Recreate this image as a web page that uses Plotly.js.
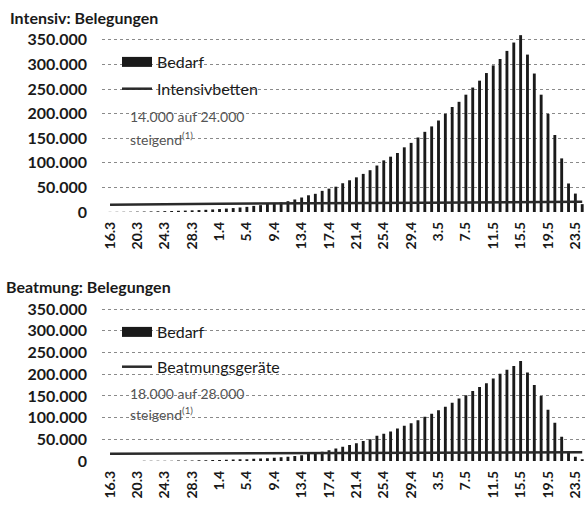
<!DOCTYPE html>
<html>
<head>
<meta charset="utf-8">
<script src="https://cdn.plot.ly/plotly-3.0.1.min.js"></script>
<style>html,body{margin:0;padding:0;background:#fff;}#chart{width:587px;height:518px;}</style>
</head>
<body>
<div id="chart"></div>
<script>
// Dates (one per day), 16.3 – 24.5
const dates = [
 "16.3","17.3","18.3","19.3","20.3","21.3","22.3","23.3","24.3","25.3","26.3","27.3","28.3","29.3","30.3","31.3",
 "1.4","2.4","3.4","4.4","5.4","6.4","7.4","8.4","9.4","10.4","11.4","12.4","13.4","14.4","15.4","16.4","17.4","18.4","19.4","20.4","21.4","22.4","23.4","24.4","25.4","26.4","27.4","28.4","29.4","30.4",
 "1.5","2.5","3.5","4.5","5.5","6.5","7.5","8.5","9.5","10.5","11.5","12.5","13.5","14.5","15.5","16.5","17.5","18.5","19.5","20.5","21.5","22.5","23.5","24.5"
];
const tickLabels = ["16.3","20.3","24.3","28.3","1.4","5.4","9.4","13.4","17.4","21.4","25.4","29.4","3.5","7.5","11.5","15.5","19.5","23.5"];
const yTicks = [0,50000,100000,150000,200000,250000,300000,350000];
const yTickText = ["0","50.000","100.000","150.000","200.000","250.000","300.000","350.000"];

// Intensiv: Bedarf
const intensivBedarf = [
 300,400,500,600,800,1000,1200,1500,1800,2100,2500,2900,3400,3900,4500,5200,
 6000,7000,8000,9200,10500,12500,14000,16500,18000,19500,22000,25500,29500,34000,37000,43000,47500,51500,58500,64500,70500,77500,85000,94500,105000,112500,120000,131500,140500,151500,
 163000,174000,186000,199500,213500,224000,238500,253000,267000,282500,298000,311000,327500,344500,359500,320000,281500,238500,199500,156500,109000,58000,37500,16000
];
// Intensivbetten (capacity line, read at a few dates)
const intensivBettenDates = ["16.3","1.4","1.5","24.5"];
const intensivBetten = [15000,17000,19000,21000];

// Beatmung: Bedarf
const beatmungBedarf = [
 100,150,200,250,300,400,500,600,700,850,1000,1200,1400,1600,1900,2200,
 2500,2900,3300,3800,4300,5000,5800,6600,7600,8700,10000,11500,13500,16000,18500,21500,25000,29000,33000,37000,41000,46000,50000,58000,63000,68000,75000,81000,87000,94000,
 102000,109000,117000,125000,134000,144000,151500,161500,170500,179000,190000,201000,210000,219000,230500,204000,175000,150000,118000,88000,56000,22000,10000,4000
];
const beatmungGeraeteDates = ["16.3","1.4","1.5","24.5"];
const beatmungGeraete = [17000,18000,19000,20000];

const ink = "#1a1a1a";
const fontFam = "Lato, 'Open Sans', sans-serif";

const traces = [
  {type:"bar", x:dates, y:intensivBedarf, marker:{color:ink}, xaxis:"x", yaxis:"y", showlegend:false, hoverinfo:"skip"},
  {type:"scatter", mode:"lines", x:[null], y:[null], name:"Bedarf", line:{color:ink, width:10}, xaxis:"x", yaxis:"y", legend:"legend", legendgroup:"a"},
  {type:"scatter", mode:"lines", x:intensivBettenDates, y:intensivBetten, name:"Intensivbetten", line:{color:"#2a2a2a", width:2.5}, xaxis:"x", yaxis:"y", legend:"legend", legendgroup:"b"},
  {type:"bar", x:dates, y:beatmungBedarf, marker:{color:ink}, xaxis:"x2", yaxis:"y2", showlegend:false, hoverinfo:"skip"},
  {type:"scatter", mode:"lines", x:[null], y:[null], name:"Bedarf", line:{color:ink, width:10}, xaxis:"x2", yaxis:"y2", legend:"legend2", legendgroup:"c"},
  {type:"scatter", mode:"lines", x:beatmungGeraeteDates, y:beatmungGeraete, name:"Beatmungsgeräte", line:{color:"#2a2a2a", width:2.5}, xaxis:"x2", yaxis:"y2", legend:"legend2", legendgroup:"d"}
];

const xCommon = {
  type:"category", categoryorder:"array", categoryarray:dates,
  range:[-1.17, 69.7], tickmode:"array", tickvals:tickLabels, ticktext:tickLabels,
  tickangle:-90, showgrid:false, zeroline:false, showline:false, ticks:"",
  ticklabelstandoff:6,
  tickfont:{family:fontFam, size:14, color:ink, weight:"bold"}
};
const yCommon = {
  range:[0,370000], tickmode:"array", tickvals:yTicks, ticktext:yTickText,
  showgrid:true, gridcolor:"#8a8a8a", griddash:"dot", gridwidth:1,
  zeroline:false, showline:false, ticks:"", ticklabelstandoff:14,
  tickfont:{family:fontFam, size:16, color:ink, weight:"bold"}
};

const layout = {
  width:587, height:518,
  margin:{l:0, r:0, t:0, b:0},
  paper_bgcolor:"#ffffff", plot_bgcolor:"#ffffff",
  bargap:0.58,
  font:{family:fontFam, color:ink},
  xaxis: Object.assign({}, xCommon, {domain:[0.1738,1], anchor:"y"}),
  yaxis: Object.assign({}, yCommon, {domain:[0.5907,0.9421], anchor:"x"}),
  xaxis2: Object.assign({}, xCommon, {domain:[0.1738,1], anchor:"y2"}),
  yaxis2: Object.assign({}, yCommon, {domain:[0.1100,0.4201], anchor:"x2"}),
  legend:{x:117/587, xanchor:"left", y:(518-45)/518, yanchor:"top", bgcolor:"rgba(0,0,0,0)",
          font:{family:fontFam, size:16, color:ink}, tracegroupgap:3, traceorder:"grouped", itemclick:false},
  legend2:{x:117/587, xanchor:"left", y:(518-315)/518, yanchor:"top", bgcolor:"rgba(0,0,0,0)",
          font:{family:fontFam, size:16, color:ink}, tracegroupgap:11, traceorder:"grouped", itemclick:false},
  annotations:[
    {text:"<b>Intensiv: Belegungen</b>", xref:"paper", yref:"paper", x:8/587, y:(518-17)/518, xanchor:"left", yanchor:"middle", showarrow:false, font:{family:fontFam, size:16, color:ink}},
    {text:"<b>Beatmung: Belegungen</b>", xref:"paper", yref:"paper", x:4/587, y:(518-286)/518, xanchor:"left", yanchor:"middle", showarrow:false, font:{family:fontFam, size:16, color:ink}},
    {text:"14.000 auf 24.000", xref:"paper", yref:"paper", x:128/587, y:(518-116)/518, xanchor:"left", yanchor:"middle", showarrow:false, font:{family:fontFam, size:14, color:"#555"}},
    {text:"steigend<sup>(1)</sup>", xref:"paper", yref:"paper", x:128/587, y:(518-138)/518, xanchor:"left", yanchor:"middle", showarrow:false, font:{family:fontFam, size:14, color:"#555"}},
    {text:"18.000 auf 28.000", xref:"paper", yref:"paper", x:128/587, y:(518-393)/518, xanchor:"left", yanchor:"middle", showarrow:false, font:{family:fontFam, size:14, color:"#555"}},
    {text:"steigend<sup>(1)</sup>", xref:"paper", yref:"paper", x:128/587, y:(518-413)/518, xanchor:"left", yanchor:"middle", showarrow:false, font:{family:fontFam, size:14, color:"#555"}}
  ]
};

Plotly.newPlot("chart", traces, layout, {staticPlot:true, displayModeBar:false});
</script>
</body>
</html>
